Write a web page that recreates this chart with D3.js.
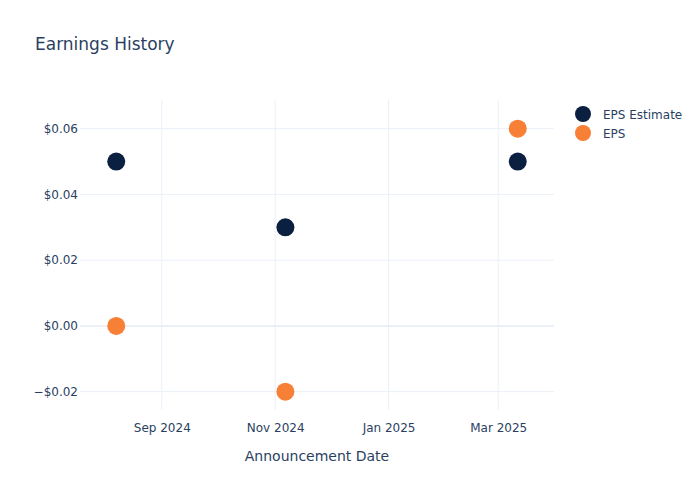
<!DOCTYPE html>
<html>
<head>
<meta charset="utf-8">
<script src="https://cdn.jsdelivr.net/npm/d3@7"></script>
<style>
  body { margin: 0; background: #fff; }
  text { font-family: "DejaVu Sans", Verdana, sans-serif; fill: #2a3f5f; }
</style>
</head>
<body>
<script>
// data
const dates = ['2024-08-07T12:00Z', '2024-11-06T12:00Z', '2025-03-11T12:00Z'];
const epsEstimate = [0.05, 0.03, 0.05];
const eps = [0, -0.02, 0.06];
const xTicks = ['2024-09-01', '2024-11-01', '2025-01-01', '2025-03-01'];
const yTicks = [-0.02, 0, 0.02, 0.04, 0.06];
const seriesNames = ['EPS Estimate', 'EPS'];
const seriesColors = ['#0b1f41', '#f77f36'];

const w = 700;
const h = 500;
const margin = { top: 100, right: 146, bottom: 90, left: 80 };

const parse = d3.isoParse;

const svg = d3.select('body').append('svg').attr('width', w).attr('height', h);

svg
  .append('text')
  .attr('x', 35)
  .attr('y', 50)
  .style('font-size', '17px')
  .text('Earnings History');

// scales
const xScale = d3
  .scaleUtc()
  .domain([parse('2024-07-19'), parse('2025-03-31')])
  .range([margin.left, w - margin.right]);

const yScale = d3
  .scaleLinear()
  .domain([-0.0258, 0.0685])
  .range([h - margin.bottom + 0.7, margin.top + 0.7]);

// grid lines
svg
  .append('g')
  .selectAll('line')
  .data(xTicks)
  .enter()
  .append('line')
  .attr('x1', (d) => xScale(parse(d)))
  .attr('x2', (d) => xScale(parse(d)))
  .attr('y1', margin.top)
  .attr('y2', h - margin.bottom)
  .style('stroke', '#ebf0f8')
  .style('stroke-width', 1);

svg
  .append('g')
  .selectAll('line')
  .data(yTicks)
  .enter()
  .append('line')
  .attr('x1', margin.left)
  .attr('x2', w - margin.right)
  .attr('y1', (d) => yScale(d))
  .attr('y2', (d) => yScale(d))
  .style('stroke', '#ebf0f8')
  .style('stroke-width', (d) => (d === 0 ? 2 : 1));

// axes
const xAxis = d3
  .axisBottom(xScale)
  .tickValues(xTicks.map(parse))
  .tickFormat(d3.utcFormat('%b %Y'))
  .tickSize(0)
  .tickPadding(12);

const gx = svg
  .append('g')
  .attr('transform', `translate(0, ${h - margin.bottom + 1})`)
  .call(xAxis);
gx.select('.domain').remove();
gx.selectAll('text').style('font-size', '12px').style('fill', '#2a3f5f');

const dollar = (v) => (v < 0 ? '\u2212$' : '$') + Math.abs(v).toFixed(2);

const yAxis = d3
  .axisLeft(yScale)
  .tickValues(yTicks)
  .tickFormat(dollar)
  .tickSize(0)
  .tickPadding(2);

const gy = svg
  .append('g')
  .attr('transform', `translate(${margin.left}, 0)`)
  .call(yAxis);
gy.select('.domain').remove();
gy.selectAll('text').style('font-size', '12px').style('fill', '#2a3f5f');

svg
  .append('text')
  .attr('x', (margin.left + w - margin.right) / 2)
  .attr('y', 461)
  .attr('text-anchor', 'middle')
  .style('font-size', '14px')
  .text('Announcement Date');

// markers
const series = [epsEstimate, eps];
series.forEach((vals, si) => {
  svg
    .append('g')
    .selectAll('circle')
    .data(vals)
    .enter()
    .append('circle')
    .attr('cx', (d, i) => xScale(parse(dates[i])))
    .attr('cy', (d) => yScale(d))
    .attr('r', 9)
    .style('fill', seriesColors[si]);
});

// legend
const legend = svg.append('g').attr('transform', 'translate(583, 114)');
seriesNames.forEach((name, i) => {
  legend
    .append('circle')
    .attr('cx', 0)
    .attr('cy', i * 19)
    .attr('r', 8)
    .style('fill', seriesColors[i]);
  legend
    .append('text')
    .attr('x', 20)
    .attr('y', i * 19 + 4.5)
    .style('font-size', '12px')
    .text(name);
});
</script>
</body>
</html>
